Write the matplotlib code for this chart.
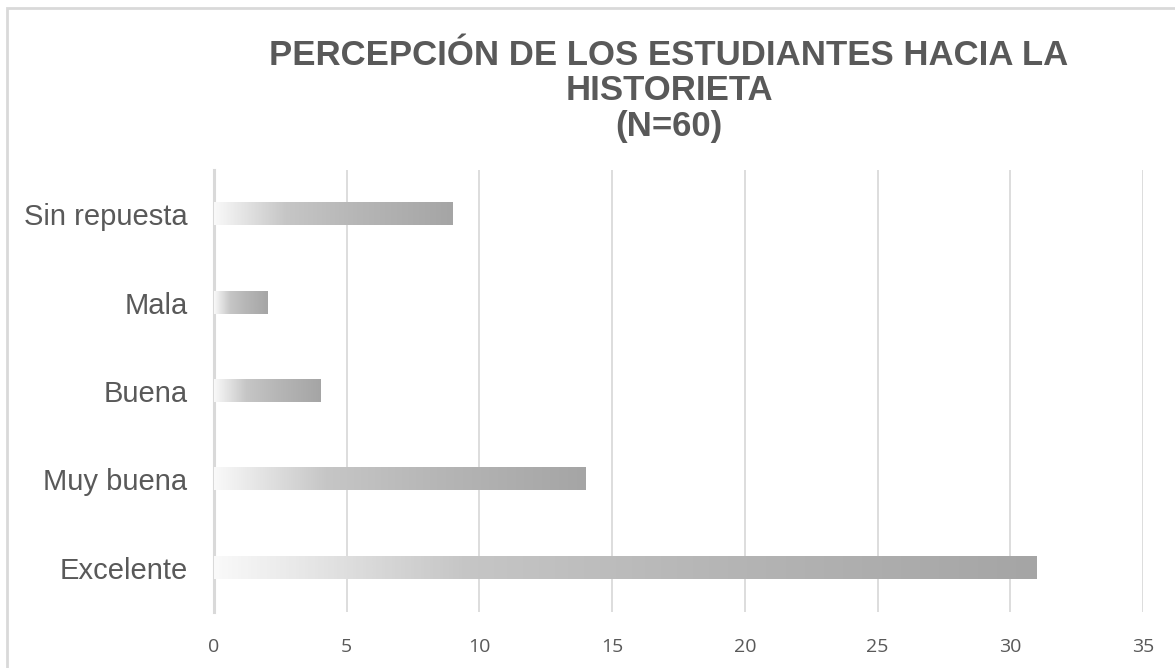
import matplotlib
matplotlib.use("Agg")
import matplotlib.pyplot as plt
import numpy as np
from matplotlib.colors import LinearSegmentedColormap
from matplotlib.patches import Rectangle

categories = ["Excelente", "Muy buena", "Buena", "Mala", "Sin repuesta"]
values = [31, 14, 4, 2, 9]
xticks = [0, 5, 10, 15, 20, 25, 30, 35]
title = "PERCEPCIÓN DE LOS ESTUDIANTES HACIA LA\nHISTORIETA\n(N=60)"

fig = plt.figure(figsize=(11.75, 6.68), dpi=100)
fig.patches.append(Rectangle((7/1175, -0.1), 1.2, 1 - 8/668 + 0.1, transform=fig.transFigure,
                             fill=False, edgecolor="#d9d9d9", linewidth=2, zorder=0))
ax = fig.add_axes([214/1175, 1 - 612/668, (1143 - 214)/1175, (612 - 170)/668])

cmap = LinearSegmentedColormap.from_list(
    "grad", [(0.0, "#f9f9f9"), (0.3, "#c6c6c6"), (0.6, "#b6b6b6"), (1.0, "#a5a5a5")])
grad = np.linspace(0, 1, 256).reshape(1, -1)
h = 0.25
for i, v in enumerate(values):
    ax.imshow(grad, cmap=cmap, aspect="auto", extent=[0, v, i - h/2, i + h/2],
              interpolation="bilinear", zorder=3)

ax.set_xlim(0, 35)
ax.set_ylim(-0.5, len(categories) - 0.5)
ax.set_xticks(xticks)
ax.set_yticks(range(len(categories)))
ax.set_yticklabels(categories, fontsize=21, color="#595959", family="Liberation Sans")
for lab in ax.get_xticklabels():
    lab.set_family("Open Sans")
ax.tick_params(axis="x", labelsize=14, colors="#595959", length=0, pad=19)
ax.tick_params(axis="y", length=0, pad=19)
ax.grid(axis="x", color="#d3d3d3", linewidth=1.1, zorder=1)
ax.set_axisbelow(True)
for s in ["top", "right", "bottom"]:
    ax.spines[s].set_visible(False)
ax.spines["left"].set_color("#d9d9d9")
ax.spines["left"].set_linewidth(2.2)
ax.spines["left"].set_zorder(2)

fig.text(669/1175, 1 - 91/668, title, ha="center", va="center", fontsize=25,
         fontweight="bold", color="#595959", family="Liberation Sans", linespacing=1.1)

fig.savefig("out.png", dpi=100)
